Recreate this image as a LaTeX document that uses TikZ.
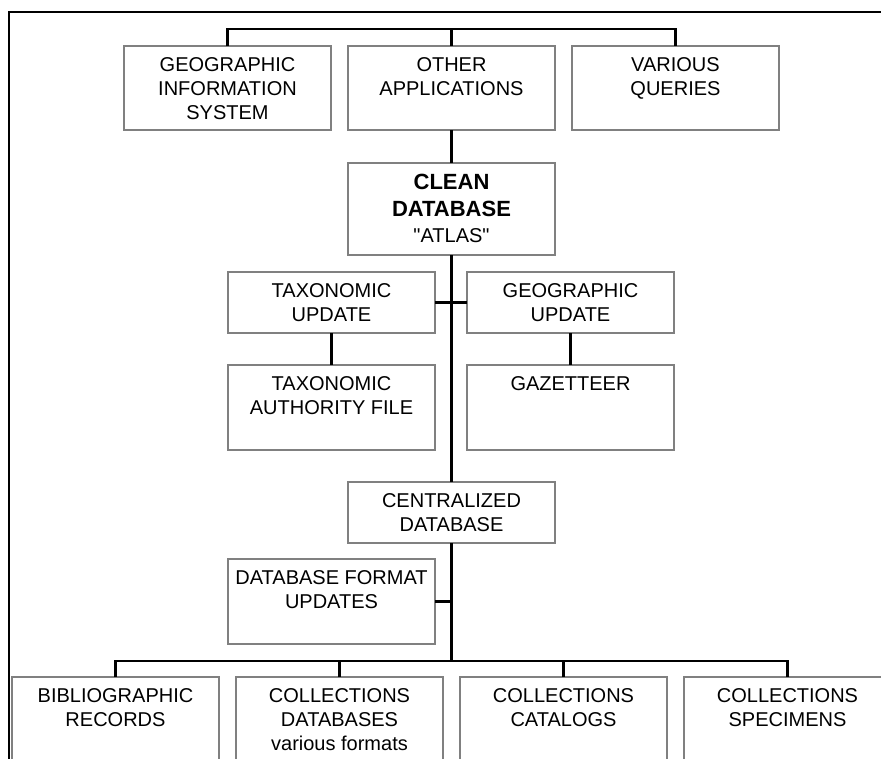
\documentclass[tikz,border=0pt]{standalone}
\usepackage{fontspec}
\setmainfont{Liberation Sans}[Ligatures=TeXOff]
\usetikzlibrary{positioning}

\tikzset{
  blk/.style={draw=gray, line width=1.5pt, minimum width=207pt, minimum height=#1, inner sep=0pt, outer sep=0pt},
  lbl/.style={anchor=north, align=center, inner sep=0pt, yshift=-11pt, font=\fontsize{20}{24}\selectfont},
  wire/.style={line width=2.8pt},
}

\begin{document}
\begin{tikzpicture}[x=1pt, y=1pt]
\clip (0,0) rectangle (881,-758);
\draw[wire] (9,-800) |- (900,-12);

% applications on top
\node[blk=84pt, label={[lbl]north:OTHER\\APPLICATIONS}] (apps) at (451.5,-88) {};
\node[blk=84pt, left=17pt of apps, label={[lbl]north:GEOGRAPHIC\\INFORMATION\\SYSTEM}] (gis) {};
\node[blk=84pt, right=17pt of apps, label={[lbl]north:VARIOUS\\QUERIES}] (queries) {};
\coordinate[above=17pt of apps] (topbus);

% clean database
\node[blk=92pt, below=33pt of apps, label={[lbl, font=\fontsize{20}{26.5}\selectfont]north:{\fontsize{22}{26.5}\selectfont\bfseries CLEAN}\\{\fontsize{22}{26.5}\selectfont\bfseries DATABASE}\\"ATLAS"}] (atlas) {};

% updates
\node[blk=61pt, below left=17pt and 16.5pt of atlas.south, label={[lbl]north:TAXONOMIC\\UPDATE}] (taxupd) {};
\node[blk=61pt, right=32pt of taxupd, label={[lbl]north:GEOGRAPHIC\\UPDATE}] (geoupd) {};
\node[blk=85pt, below=32pt of taxupd, label={[lbl]north:TAXONOMIC\\AUTHORITY FILE}] (taxauth) {};
\node[blk=85pt, below=32pt of geoupd, label={[lbl]north:GAZETTEER}] (gazetteer) {};

% centralized database
\node[blk=61pt, below=227pt of atlas, label={[lbl]north:CENTRALIZED\\DATABASE}] (central) {};
\node[blk=85pt, below left=16pt and 16.5pt of central.south, label={[lbl]north:DATABASE FORMAT\\UPDATES}] (dbformat) {};
\coordinate[below=118pt of central] (lowbus);

% sources
\node[blk=110pt, anchor=north, label={[lbl]north:COLLECTIONS\\DATABASES\\various formats}] (colldb) at (339.5,-677) {};
\node[blk=110pt, left=17pt of colldb, label={[lbl]north:BIBLIOGRAPHIC\\RECORDS}] (biblio) {};
\node[blk=110pt, right=17pt of colldb, label={[lbl]north:COLLECTIONS\\CATALOGS}] (catalogs) {};
\node[blk=110pt, right=17pt of catalogs, label={[lbl]north:COLLECTIONS\\SPECIMENS}] (specimens) {};

\draw[wire] (gis.north) |- (topbus) -| (queries.north);
\draw[wire] (topbus) -- (apps);
\draw[wire] (apps) -- (atlas);
\draw[wire] (atlas) -- (central);
\draw[wire] (taxupd) -- (geoupd);
\draw[wire] (taxupd) -- (taxauth);
\draw[wire] (geoupd) -- (gazetteer);
\draw[wire] (central) -- (lowbus);
\draw[wire] (dbformat) -- (dbformat -| central);
\draw[wire] (biblio.north) |- (lowbus) -| (specimens.north);
\draw[wire] (colldb) -- (colldb |- lowbus);
\draw[wire] (catalogs) -- (catalogs |- lowbus);
\end{tikzpicture}
\end{document}
